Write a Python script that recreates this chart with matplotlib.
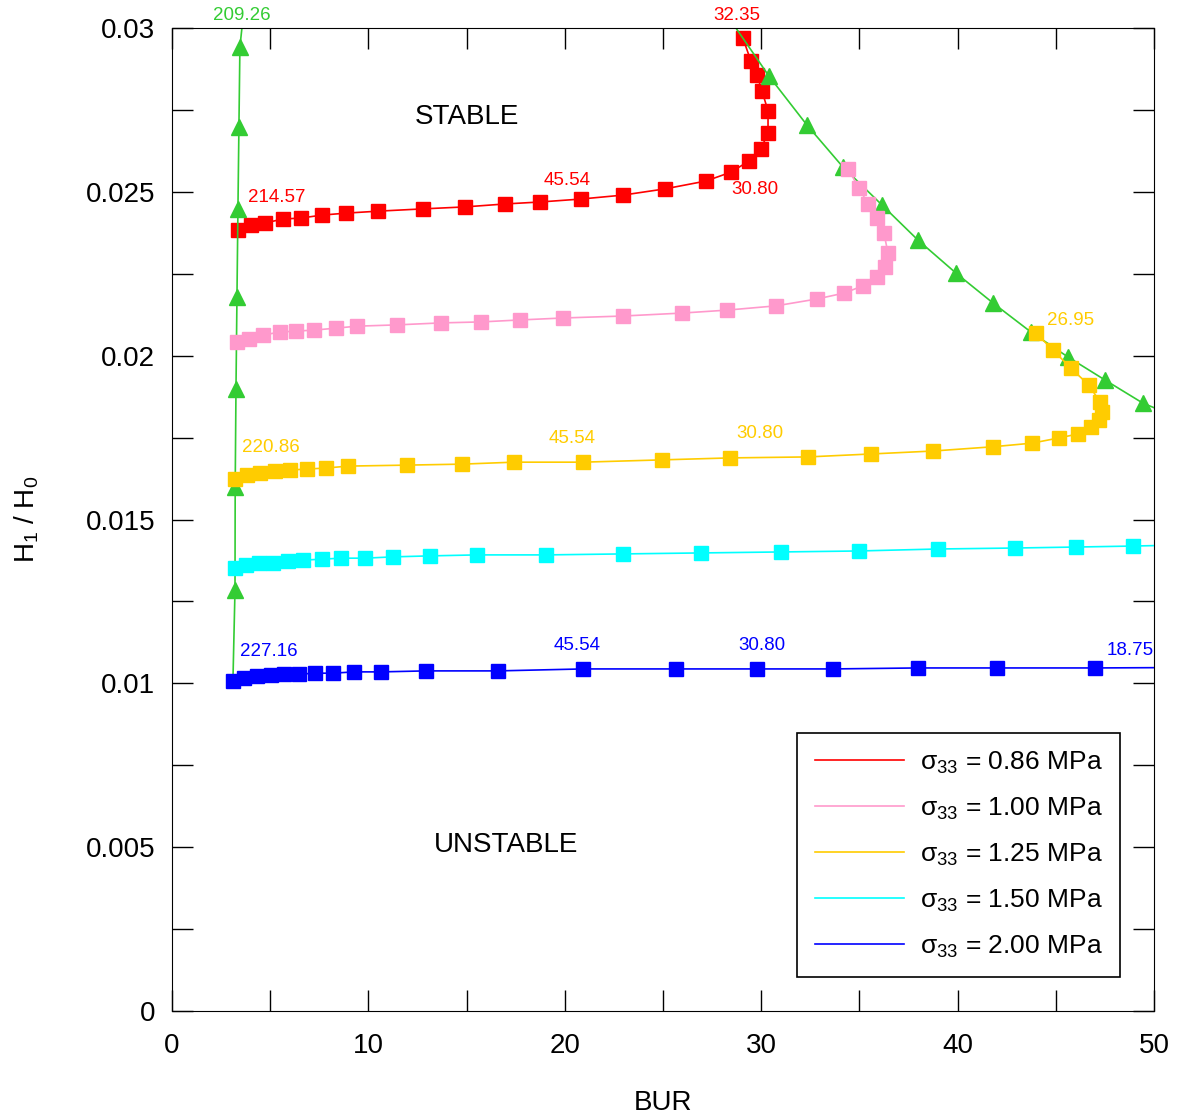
import matplotlib
matplotlib.use("Agg")
import matplotlib.pyplot as plt
from matplotlib.ticker import MultipleLocator, FormatStrFormatter

plt.rcParams["font.family"] = ["Liberation Sans", "DejaVu Sans"]
plt.rcParams["mathtext.fontset"] = "custom"
plt.rcParams["mathtext.rm"] = "Liberation Sans"
plt.rcParams["mathtext.it"] = "Liberation Sans:italic"

# sigma33 = 0.86 MPa
bur_086 = [3.36, 4.02, 4.74, 5.65, 6.57, 7.64, 8.86, 10.49, 12.78, 14.92, 16.96, 18.74,
           20.82, 22.96, 25.10, 27.19, 28.46, 29.38, 29.99, 30.35, 30.35, 30.04, 29.79,
           29.48, 29.07]
h_086 = [0.02383, 0.02399, 0.02405, 0.02417, 0.02420, 0.02429, 0.02435, 0.02441, 0.02448,
         0.02454, 0.02463, 0.02469, 0.02478, 0.02490, 0.02509, 0.02533, 0.02560, 0.02594,
         0.02631, 0.02680, 0.02747, 0.02808, 0.02857, 0.02899, 0.02969]

# sigma33 = 1.00 MPa
bur_100 = [3.31, 3.92, 4.63, 5.50, 6.31, 7.23, 8.35, 9.42, 11.46, 13.70, 15.73, 17.72,
           19.91, 22.96, 25.97, 28.26, 30.75, 32.84, 34.22, 35.18, 35.90, 36.30, 36.46,
           36.25, 35.90, 35.44, 34.98, 34.42]
h_100 = [0.02042, 0.02051, 0.02063, 0.02072, 0.02075, 0.02078, 0.02084, 0.02090, 0.02094,
         0.02100, 0.02103, 0.02109, 0.02115, 0.02121, 0.02130, 0.02139, 0.02152, 0.02173,
         0.02191, 0.02213, 0.02240, 0.02271, 0.02313, 0.02374, 0.02420, 0.02463, 0.02512,
         0.02570]

# sigma33 = 1.25 MPa
bur_125 = [3.21, 3.82, 4.48, 5.24, 6.01, 6.87, 7.84, 8.96, 11.97, 14.77, 17.41, 20.93,
           24.95, 28.41, 32.38, 35.59, 38.75, 41.80, 43.79, 45.16, 46.13, 46.79, 47.20,
           47.35, 47.25, 46.69, 45.77, 44.86, 43.99]
h_125 = [0.01624, 0.01636, 0.01642, 0.01648, 0.01651, 0.01654, 0.01657, 0.01663, 0.01666,
         0.01669, 0.01675, 0.01675, 0.01682, 0.01688, 0.01691, 0.01700, 0.01709, 0.01722,
         0.01733, 0.01749, 0.01761, 0.01782, 0.01804, 0.01828, 0.01859, 0.01910, 0.01962,
         0.02017, 0.02069]

# sigma33 = 1.50 MPa
bur_150 = [3.21, 3.77, 4.43, 5.14, 5.91, 6.67, 7.64, 8.60, 9.83, 11.25, 13.14, 15.53,
           19.04, 22.96, 26.93, 31.00, 34.98, 39.00, 42.92, 46.03, 48.93, 50.5]
h_150 = [0.01352, 0.01361, 0.01367, 0.01367, 0.01373, 0.01376, 0.01379, 0.01382, 0.01382,
         0.01386, 0.01389, 0.01392, 0.01392, 0.01395, 0.01398, 0.01401, 0.01404, 0.01410,
         0.01413, 0.01416, 0.01419, 0.01421]

# sigma33 = 2.00 MPa
bur_200 = [3.11, 3.67, 4.33, 5.04, 5.70, 6.47, 7.28, 8.20, 9.27, 10.64, 12.93, 16.60,
           20.93, 25.66, 29.79, 33.66, 37.98, 42.00, 47.00, 50.5]
h_200 = [0.01007, 0.01016, 0.01022, 0.01025, 0.01028, 0.01028, 0.01031, 0.01031, 0.01035,
         0.01035, 0.01038, 0.01038, 0.01044, 0.01044, 0.01044, 0.01044, 0.01047, 0.01047,
         0.01047, 0.01048]

# stability boundary (green triangles), two branches
bur_lim_a = [3.10, 3.21, 3.22, 3.26, 3.31, 3.36, 3.41, 3.46, 3.58]
h_lim_a = [0.00995, 0.01285, 0.01599, 0.01898, 0.02179, 0.02448, 0.02698, 0.02942, 0.03010]
bur_lim_b = [28.60, 30.40, 32.33, 34.16, 36.15, 37.98, 39.92, 41.80, 43.74, 45.62, 47.50,
             49.44, 50.30]
h_lim_b = [0.03010, 0.02853, 0.02704, 0.02576, 0.02460, 0.02353, 0.02252, 0.02161, 0.02072,
           0.01996, 0.01926, 0.01855, 0.01834]

series = [
    (bur_086, h_086, "#ff0000", "0.86"),
    (bur_100, h_100, "#ff99cc", "1.00"),
    (bur_125, h_125, "#ffcc00", "1.25"),
    (bur_150, h_150, "#00ffff", "1.50"),
    (bur_200, h_200, "#0000ff", "2.00"),
]

# point labels: text, x, y, colour
labels = [
    ("209.26", 3.56, 0.03037, "#33cc33"),
    ("214.57", 5.35, 0.02484, "#ff0000"),
    ("45.54", 20.11, 0.02536, "#ff0000"),
    ("30.80", 29.68, 0.02506, "#ff0000"),
    ("32.35", 28.77, 0.03037, "#ff0000"),
    ("220.86", 5.04, 0.01721, "#ffcc00"),
    ("45.54", 20.37, 0.01746, "#ffcc00"),
    ("30.80", 29.94, 0.01764, "#ffcc00"),
    ("26.95", 45.77, 0.02106, "#ffcc00"),
    ("227.16", 4.94, 0.01096, "#0000ff"),
    ("45.54", 20.62, 0.01117, "#0000ff"),
    ("30.80", 30.04, 0.01117, "#0000ff"),
    ("18.75", 48.78, 0.01099, "#0000ff"),
]


def main():
    fig = plt.figure(figsize=(11.81, 11.2), dpi=100)
    ax = fig.add_axes([0.1456, 0.0973, 0.8315, 0.8777])

    green = "#33cc33"
    for bx, hy in [(bur_lim_a, h_lim_a), (bur_lim_b, h_lim_b)]:
        ax.plot(bx, hy, color=green, lw=1.2, zorder=2)
        ax.plot(bx[1:-1], hy[1:-1], ls="none", marker="^", ms=11, color=green, zorder=2)

    for bx, hy, c, s in series:
        z = 1.5 if s == "0.86" else 3
        ax.plot(bx, hy, color=c, lw=1.2, marker="s", ms=10, zorder=z,
                label=r"σ$_{33}$ = " + s + " MPa")

    for t, x, y, c in labels:
        ax.text(x, y, t, color=c, fontsize=13.5, ha="center", va="center")

    ax.text(15.0, 0.02727, "STABLE", fontsize=20, ha="center", va="center")
    ax.text(17.0, 0.00507, "UNSTABLE", fontsize=20, ha="center", va="center")

    ax.set_xlim(0, 50)
    ax.set_ylim(0, 0.03)
    ax.xaxis.set_major_locator(MultipleLocator(10))
    ax.xaxis.set_minor_locator(MultipleLocator(5))
    ax.yaxis.set_major_locator(MultipleLocator(0.005))
    ax.yaxis.set_minor_locator(MultipleLocator(0.0025))
    ax.yaxis.set_major_formatter(FormatStrFormatter("%g"))
    ax.tick_params(which="both", direction="in", top=True, right=True, length=15,
                   width=1, labelsize=20)
    ax.tick_params(axis="x", pad=16)
    ax.tick_params(axis="y", pad=12)

    ax.set_xlabel("BUR", fontsize=20, labelpad=22)
    ax.set_ylabel(r"H$_1$ / H$_0$", fontsize=20, labelpad=32)

    leg = ax.legend(loc="lower right", bbox_to_anchor=(0.9654, 0.0346), fontsize=19,
                    handlelength=3.4, labelspacing=0.75, frameon=True, fancybox=False,
                    edgecolor="black", framealpha=1, borderpad=0.65, handletextpad=0.6,
                    borderaxespad=0)
    leg.get_frame().set_linewidth(1.2)
    for h in leg.legend_handles:
        h.set_marker("")

    fig.savefig("out.png", dpi=100)


if __name__ == "__main__":
    main()
